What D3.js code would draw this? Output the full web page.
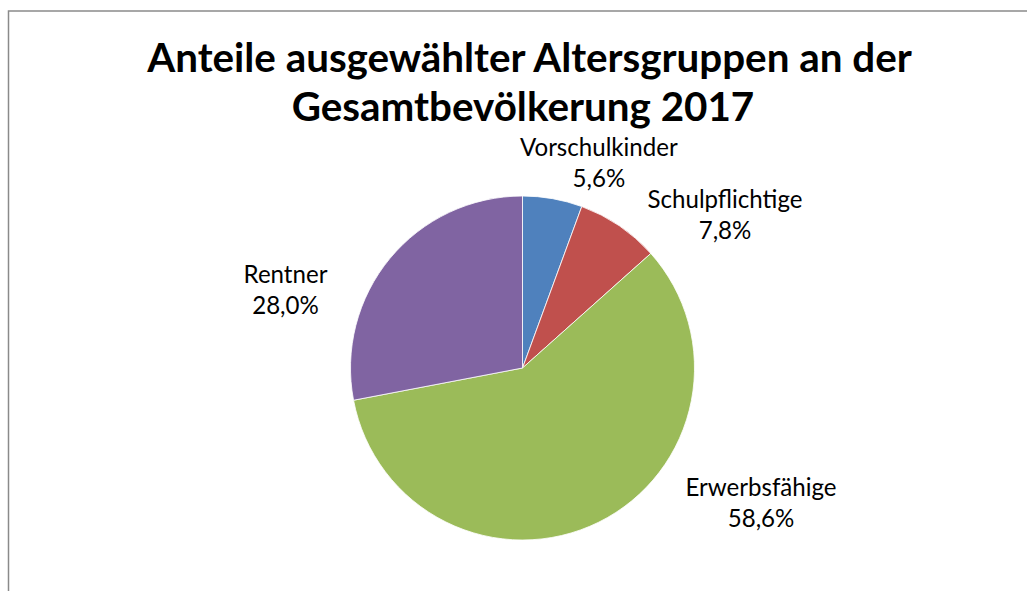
<!DOCTYPE html>
<html>
<head>
<meta charset="utf-8">
<script src="https://cdn.jsdelivr.net/npm/d3@7"></script>
<style>
  html, body { margin: 0; padding: 0; background: #fff; }
  svg { display: block; }
</style>
</head>
<body>
<svg id="chart" width="1027" height="591"></svg>
<script>
// ---- data ----
const categories = ["Vorschulkinder", "Schulpflichtige", "Erwerbsfähige", "Rentner"];
const values = [5.6, 7.8, 58.6, 28.0];
const valueLabels = ["5,6%", "7,8%", "58,6%", "28,0%"];
const titleLines = ["Anteile ausgewählter Altersgruppen an der", "Gesamtbevölkerung 2017"];

// ---- layout / style ----
const W = 1027, H = 591;
const colors = ["#4F81BD", "#C0504D", "#9BBB59", "#8064A2"];
const cx = 522.5, cy = 368, R = 172;
// label anchor placement (polar: angle in degrees clockwise from top, distance in radius units)
const labelPlacement = [[21.2, 1.228], [54.4, 1.448], [120.95, 1.617], [286.35, 1.436]];

const svg = d3.select("#chart");

// chart border (only top and left visible in the frame)
svg.append("rect")
  .attr("x", 8.5).attr("y", 11)
  .attr("width", W + 20).attr("height", H + 20)
  .attr("fill", "#fff")
  .attr("stroke", "#8a8a8a")
  .attr("stroke-width", 1.5);

// helper to fit font size to a target width
function fitSize(textSel, targetWidth, startSize) {
  textSel.attr("font-size", startSize);
  const w = textSel.node().getComputedTextLength();
  const s = startSize * targetWidth / w;
  textSel.attr("font-size", s);
  return s;
}

// title
const titleFont = "Lato, 'Open Sans', sans-serif";
const t1 = svg.append("text")
  .attr("x", 529.5).attr("y", 72)
  .attr("text-anchor", "middle")
  .attr("font-family", titleFont)
  .attr("font-weight", "bold")
  .attr("fill", "#000")
  .text(titleLines[0]);
const ts = fitSize(t1, 765, 36);
svg.append("text")
  .attr("x", 523).attr("y", 121)
  .attr("text-anchor", "middle")
  .attr("font-family", titleFont)
  .attr("font-weight", "bold")
  .attr("font-size", ts)
  .attr("fill", "#000")
  .text(titleLines[1]);

// pie
const pie = d3.pie().sort(null).value(d => d).startAngle(0).endAngle(2 * Math.PI);
const arcs = pie(values);
const arc = d3.arc().innerRadius(0).outerRadius(R);

const g = svg.append("g").attr("transform", `translate(${cx},${cy})`);
g.selectAll("path.slice")
  .data(arcs)
  .join("path")
  .attr("class", "slice")
  .attr("d", arc)
  .attr("fill", (d, i) => colors[i])
  .attr("stroke", "#ffffff")
  .attr("stroke-opacity", 0.8)
  .attr("stroke-width", 1);

// labels
const labelFont = "Lato, 'Open Sans', sans-serif";
// determine label font size from measured width of "Schulpflichtige" (155px in reference)
const probe = svg.append("text").attr("font-family", labelFont).text(categories[1]);
const ls = fitSize(probe, 155, 22);
probe.remove();
const lineH = 31;

const labels = g.selectAll("g.label")
  .data(arcs)
  .join("g")
  .attr("class", "label")
  .attr("transform", (d, i) => {
    const a = labelPlacement[i][0] * Math.PI / 180;
    const r = labelPlacement[i][1] * R;
    return `translate(${r * Math.sin(a)},${-r * Math.cos(a)})`;
  });

labels.append("text")
  .attr("text-anchor", "middle")
  .attr("font-family", labelFont)
  .attr("font-size", ls)
  .attr("fill", "#000")
  .attr("y", -lineH / 2)
  .text((d, i) => categories[i]);
labels.append("text")
  .attr("text-anchor", "middle")
  .attr("font-family", labelFont)
  .attr("font-size", ls)
  .attr("fill", "#000")
  .attr("y", lineH / 2)
  .text((d, i) => valueLabels[i]);
</script>
</body>
</html>
